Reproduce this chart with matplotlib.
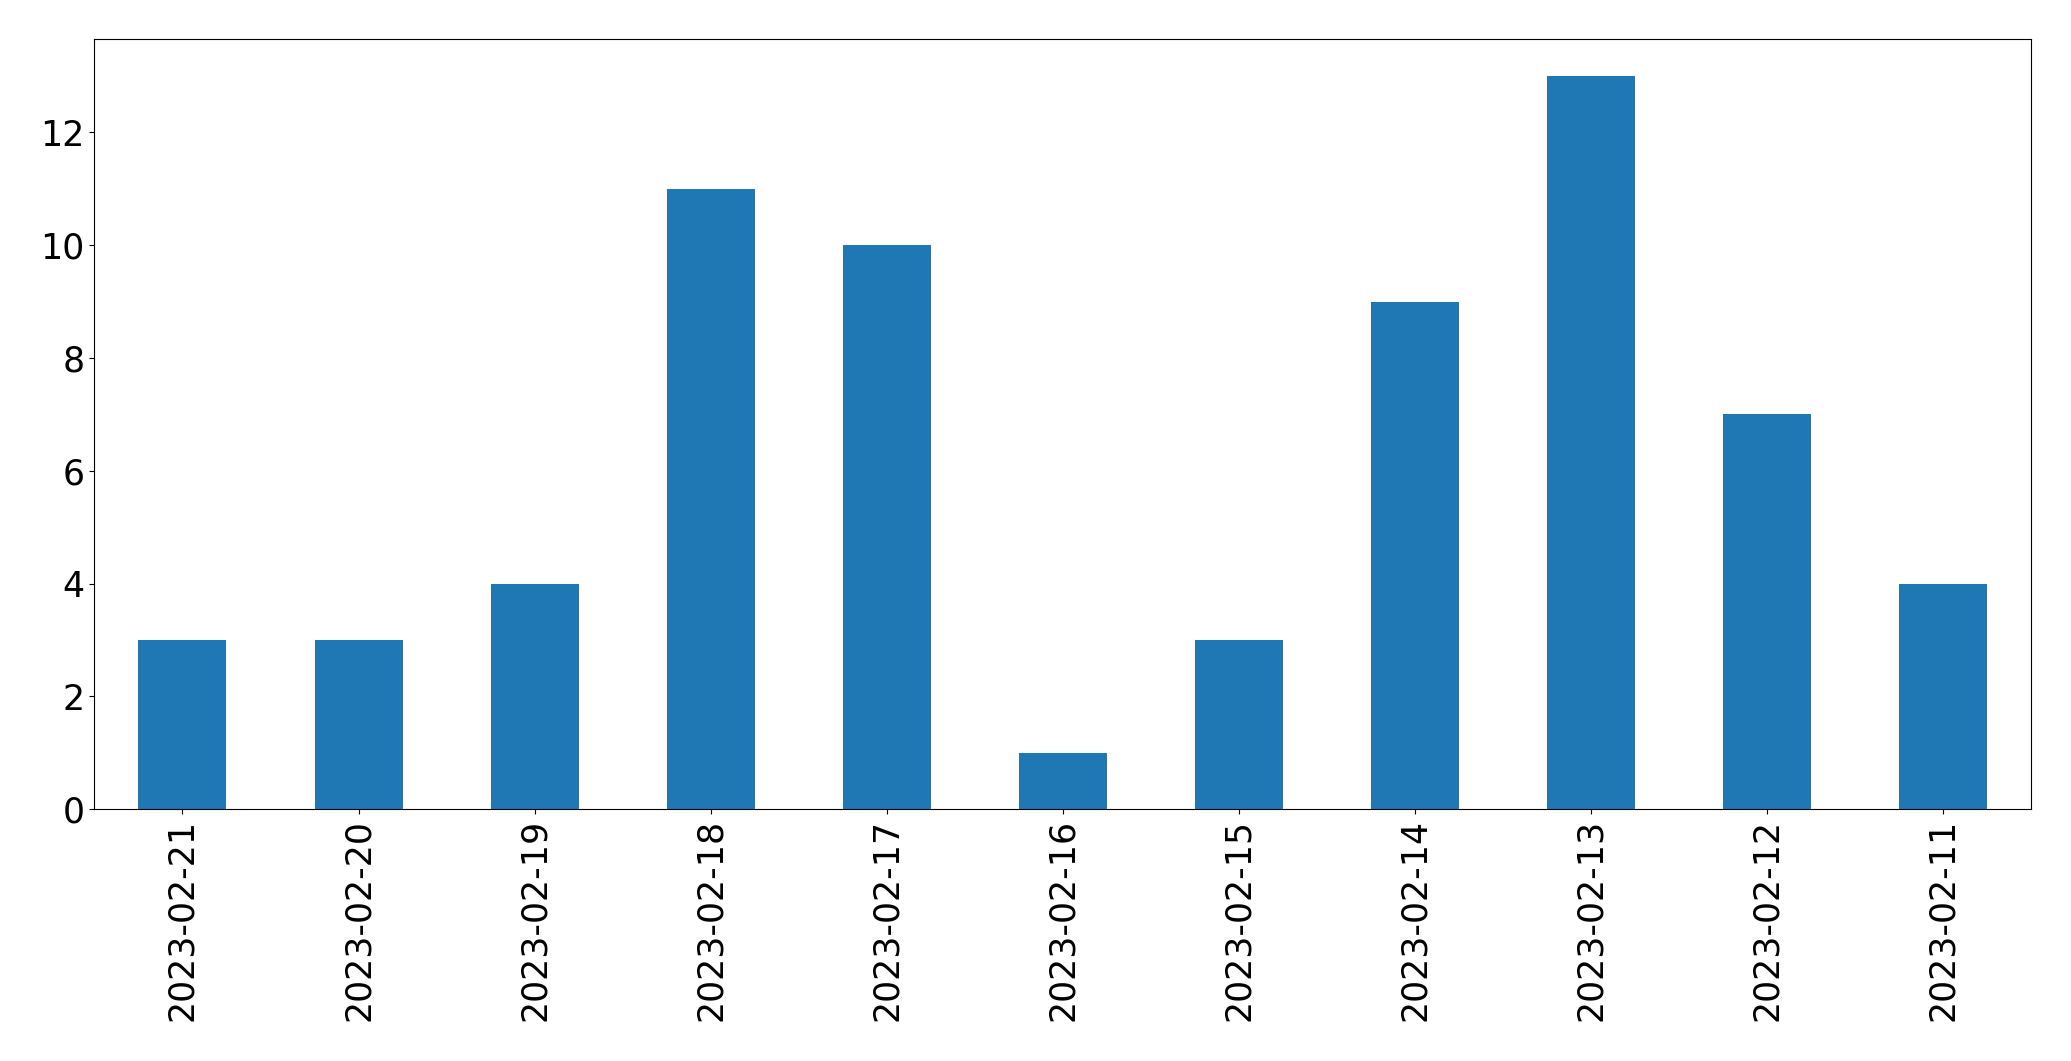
import pandas as pd
import matplotlib
matplotlib.use("Agg")
import matplotlib.pyplot as plt

dates = ["2023-02-21", "2023-02-20", "2023-02-19", "2023-02-18", "2023-02-17",
         "2023-02-16", "2023-02-15", "2023-02-14", "2023-02-13", "2023-02-12",
         "2023-02-11"]
counts = [3, 3, 4, 11, 10, 1, 3, 9, 13, 7, 4]

s = pd.Series(counts, index=dates)

fig = plt.figure(figsize=(20.71, 10.61), dpi=100)
ax = fig.add_subplot(111)
s.plot(kind="bar", ax=ax, fontsize=25)
fig.subplots_adjust(left=0.0456, right=0.9807, top=0.9628, bottom=0.2375)
fig.savefig("out.png", dpi=100)
